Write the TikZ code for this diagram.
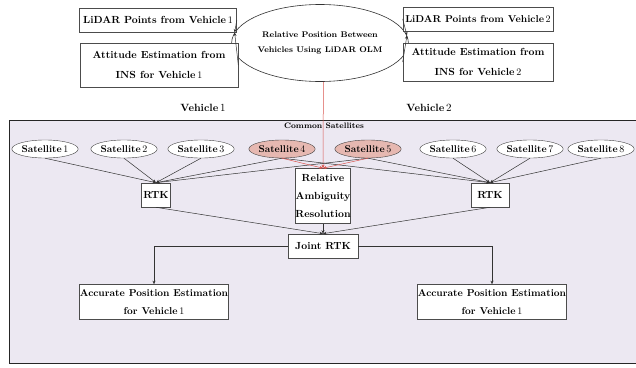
\documentclass[tikz,border=0pt]{standalone}
\usepackage{amsmath,amssymb}
\usepackage{tikz}
\usetikzlibrary{arrows.meta,shapes.geometric}

\definecolor{panelbg}{HTML}{ECE8F2}
\definecolor{commonsat}{HTML}{E6B8B1}
\definecolor{relred}{HTML}{D9544E}

\tikzset{
  box/.style={draw=black!70, line width=0.6pt, fill=white, font=\fontsize{10.3}{13}\selectfont\bfseries,
    align=center, inner sep=0pt},
  sat/.style={ellipse, draw=black!75, fill=white, font=\fontsize{9.8}{12}\selectfont\bfseries,
    minimum width=64pt, minimum height=18pt, inner sep=0pt},
  link/.style={draw=black!80, line width=0.5pt, -{Stealth[length=3.5pt,width=3pt]}},
  rellink/.style={draw=relred, line width=0.5pt, -{Stealth[length=3.5pt,width=3pt]}},
}

\begin{document}
\begin{tikzpicture}[x=1pt,y=-1pt]
\useasboundingbox (0,0) rectangle (636,367);
% panel of the common satellites
\draw[fill=panelbg, draw=black!85, thick] (9,120) rectangle (642,363);
\node[font=\fontsize{7.9}{9}\selectfont\bfseries] (common) at (324,126) {Common Satellites};

% top: inputs of the relative positioning
\node[ellipse, draw=black!80, line width=0.6pt, fill=white, minimum width=123pt, minimum height=77pt, inner sep=0pt,
  align=center, font=\fontsize{8.2}{15}\selectfont\bfseries] (olm) at (320,43)
  {Relative Position Between\\Vehicles Using LiDAR OLM};
\node[box, minimum width=157pt, minimum height=24pt] (lidarA) at (158,20) {LiDAR Points from Vehicle$\,1$};
\node[box, minimum width=158pt, minimum height=44pt, execute at begin node={\setlength{\baselineskip}{20pt}}]
  (attA) at (159,65) {Attitude Estimation from\\INS for Vehicle$\,1$};
\node[box, minimum width=150pt, minimum height=24pt, font=\fontsize{10}{12}\selectfont\bfseries]
  (lidarB) at (478,19) {LiDAR Points from Vehicle$\,2$};
\node[box, minimum width=150pt, minimum height=38pt, execute at begin node={\setlength{\baselineskip}{20pt}}]
  (attB) at (478,62) {Attitude Estimation from\\INS for Vehicle$\,2$};
\node[font=\fontsize{10.5}{13}\selectfont\bfseries] (vehA) at (203,108) {Vehicle$\,1$};
\node[font=\fontsize{10.5}{13}\selectfont\bfseries] (vehB) at (429,108) {Vehicle$\,2$};

% satellites
\node[sat] (sat1) at (45,149) {Satellite$\,1$};
\node[sat] (sat2) at (124,149) {Satellite$\,2$};
\node[sat] (sat3) at (201,149) {Satellite$\,3$};
\node[sat, fill=commonsat] (sat4) at (282,149) {Satellite$\,4$};
\node[sat, fill=commonsat] (sat5) at (368,149) {Satellite$\,5$};
\node[sat] (sat6) at (453,149) {Satellite$\,6$};
\node[sat] (sat7) at (530,149) {Satellite$\,7$};
\node[sat] (sat8) at (601,149) {Satellite$\,8$};

% processing
\node[box, minimum width=29pt, minimum height=24pt] (rtkA) at (156,195) {RTK};
\node[box, minimum width=38pt, minimum height=24pt] (rtkB) at (490,195) {RTK};
\node[box, minimum width=54pt, minimum height=55pt, execute at begin node={\setlength{\baselineskip}{18pt}}]
  (rar) at (323,196) {Relative\\Ambiguity\\Resolution};
\node[box, minimum width=70pt, minimum height=24pt] (joint) at (323,246) {Joint RTK};
\node[box, minimum width=149pt, minimum height=35pt, font=\fontsize{10}{12}\selectfont\bfseries,
  execute at begin node={\setlength{\baselineskip}{18pt}}]
  (accA) at (154,302) {Accurate Position Estimation\\for Vehicle$\,1$};
\node[box, minimum width=149pt, minimum height=35pt, font=\fontsize{10}{12}\selectfont\bfseries,
  execute at begin node={\setlength{\baselineskip}{18pt}}]
  (accB) at (492,302) {Accurate Position Estimation\\for Vehicle$\,1$};

% connectors
\draw[link] (lidarA.east) -- (olm.173);
\draw[link] (attA.east) -- (olm.173);
\draw[link] (lidarB.west) -- (olm.5);
\draw[link] (attB.west) -- (olm.5);
\draw[rellink] (olm.-85) -- (rar.north);

\draw[link] (sat1.south) -- (rtkA.north);
\draw[link] (sat2.south) -- (rtkA.north);
\draw[link] (sat3.south) -- (rtkA.north);
\draw[link] (sat4.south) -- (rtkA.north);
\draw[link] (sat5.south) -- (rtkA.north);
\draw[link] (sat4.south) -- (rtkB.north);
\draw[link] (sat5.south) -- (rtkB.north);
\draw[link] (sat6.south) -- (rtkB.north);
\draw[link] (sat7.south) -- (rtkB.north);
\draw[link] (sat8.south) -- (rtkB.north);
\draw[rellink] (sat4.south) -- (rar.north);
\draw[rellink] (sat5.south) -- (rar.north);

\draw[link] (rtkA.south) -- (joint.north);
\draw[link] (rtkB.south) -- (joint.north);
\draw[link] (rar.south) -- (joint.north);
\draw[link] (joint.west) -| (accA.north);
\draw[link] (joint.east) -| (accB.north);
\end{tikzpicture}
\end{document}
